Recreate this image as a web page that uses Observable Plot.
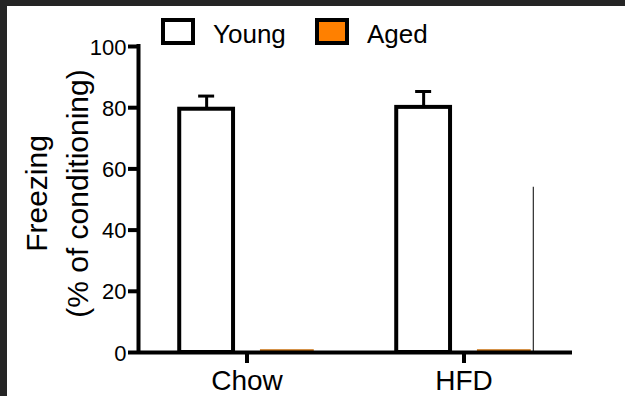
<!DOCTYPE html>
<html>
<head>
<meta charset="utf-8">
<script src="https://cdn.jsdelivr.net/npm/d3@7"></script>
<script src="https://cdn.jsdelivr.net/npm/@observablehq/plot@0.6"></script>
<style>
  html, body { margin: 0; padding: 0; background: #fff; }
  body { width: 625px; height: 396px; overflow: hidden; position: relative; font-family: "Liberation Sans", Arial, sans-serif; }
  #frame { position: absolute; left: 0; top: 0; width: 618px; height: 390px; border-top: 6px solid #252525; border-left: 7px solid #252525; background: #fff; }
  #chart { position: absolute; left: 0; top: 0; }
  .sw { position: absolute; width: 26px; height: 19px; border: 4px solid #000; }
  .lab { position: absolute; font-size: 26px; line-height: 26px; color: #000; white-space: nowrap; }
</style>
</head>
<body>
<div id="frame"><div id="chart"></div></div>
<div class="sw" style="left:161px;top:18px;background:#fff"></div>
<div class="lab" style="left:213px;top:21px">Young</div>
<div class="sw" style="left:315px;top:18px;background:#ff8000"></div>
<div class="lab" style="left:367px;top:21px">Aged</div>
<script>
// ---- data ----
const groups = ["Chow", "HFD"];
const conditions = ["Young", "Aged"];
const youngMeans = [79.5, 80.1];
const youngErrors = [4.3, 5.2];
const agedMeans = [0.9, 0.9];
const strayLineTop = [54];           // thin vertical line at right of HFD/Aged bar
const yTicks = [0, 20, 40, 60, 80, 100];
const yTitle = "Freezing\n(% of conditioning)";

// ---- build table ----
const offset = {Young: -0.186, Aged: 0.186};
const half = 0.124;
const bars = groups.flatMap((g, i) => [
  {group: g, gi: i, condition: "Young", mean: youngMeans[i], err: youngErrors[i]},
  {group: g, gi: i, condition: "Aged", mean: agedMeans[i], err: 0}
]);
const young = bars.filter(d => d.condition === "Young");
const aged = bars.filter(d => d.condition === "Aged");
const center = d => d.gi + offset[d.condition];
const groupIdx = groups.map((g, i) => i);

const plot = Plot.plot({
  width: 618,
  height: 390,
  marginLeft: 131,
  marginRight: 53,
  marginTop: 40,
  marginBottom: 44,
  style: {fontFamily: "Liberation Sans, Arial, sans-serif", fontSize: "22px", color: "#000", background: "#fff", overflow: "visible"},
  x: {domain: [-0.5, 1.5], axis: null},
  y: {domain: [0, 100], axis: null},
  marks: [
    Plot.rectY(aged, {x1: d => center(d) - half, x2: d => center(d) + half, y1: 0, y2: "mean", fill: "#c8700f"}),
    Plot.rectY(young, {x1: d => center(d) - half, x2: d => center(d) + half, y1: 0, y2: "mean", fill: "#fff", stroke: "#000", strokeWidth: 4}),
    Plot.ruleX(young, {x: center, y1: "mean", y2: d => d.mean + d.err, stroke: "#000", strokeWidth: 3}),
    Plot.ruleY(young, {x1: center, x2: center, y: d => d.mean + d.err, insetLeft: -8, insetRight: -8, stroke: "#000", strokeWidth: 3}),
    Plot.ruleX(strayLineTop, {x: 1 + offset.Aged + half, y1: 0, y2: d => d, stroke: "#000", strokeWidth: 1, dx: 2}),
    // y ticks (thick) and labels
    Plot.ruleY(yTicks, {x1: -0.5, x2: -0.5, insetLeft: -10, stroke: "#000", strokeWidth: 4}),
    Plot.text(yTicks, {x: -0.5, y: d => d, text: d => String(d), textAnchor: "end", dx: -12, dy: 1, fontSize: 22, fill: "#000"}),
    // x ticks (thick) and labels
    Plot.ruleX(groupIdx, {x: d => d, y1: 0, y2: 0, insetBottom: -11, stroke: "#000", strokeWidth: 4}),
    Plot.text(groupIdx, {x: d => d, frameAnchor: "bottom", text: i => groups[i], lineAnchor: "top", dy: 18, fontSize: 28, fill: "#000"}),
    // axis lines
    Plot.ruleY([0], {stroke: "#000", strokeWidth: 4}),
    Plot.ruleX([-0.5], {y1: 0, y2: 100, stroke: "#000", strokeWidth: 4, strokeLinecap: "square"}),
    Plot.text([yTitle], {frameAnchor: "left", textAnchor: "middle", lineAnchor: "middle", rotate: -90, dx: -84, dy: -6, fontSize: 30, lineHeight: 1.37, fill: "#000"})
  ]
});
document.getElementById("chart").appendChild(plot);
</script>
</body>
</html>
